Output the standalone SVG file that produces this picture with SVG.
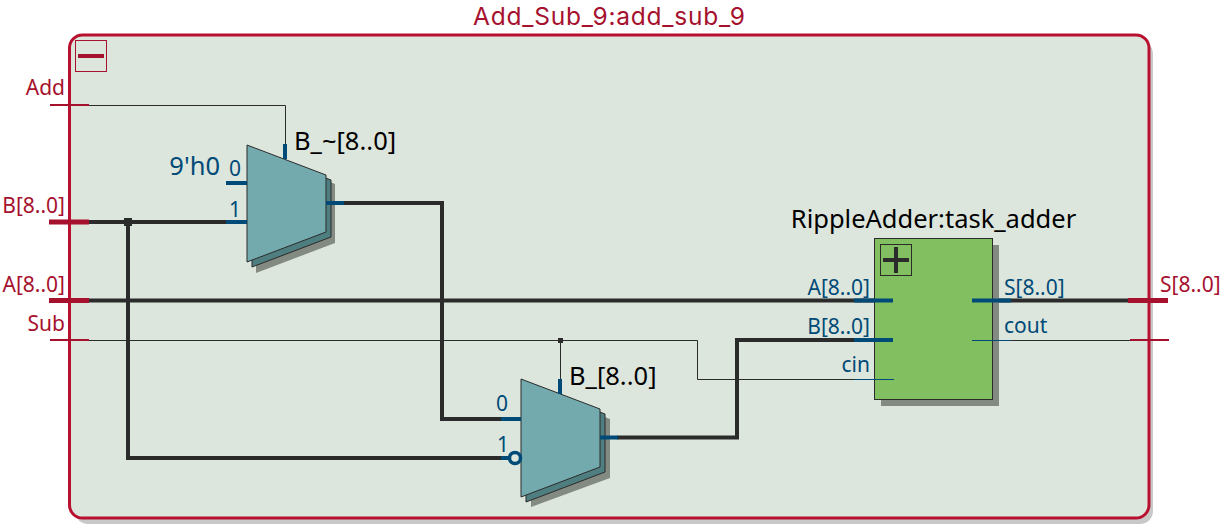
<svg xmlns="http://www.w3.org/2000/svg" width="1224" height="526" viewBox="0 0 1224 526">
<style>
text{font-family:"Noto Sans","Open Sans",sans-serif;font-size:25.500px}
.r{fill:#a6112e}.b{fill:#004a77}.k{fill:#000}.e{text-anchor:end}
.s{font-size:21px}
.title{font-family:Inter,"Noto Sans",sans-serif;font-size:24.500px}
.wt{fill:none;stroke:#2b2b2b;stroke-width:1}
.wb{fill:none;stroke:#2b2b2b;stroke-width:4;stroke-linejoin:miter}
.pt{stroke:#004a77;stroke-width:1;fill:none}
.pb{stroke:#004a77;stroke-width:4;fill:none}
.ot{stroke:#a6112e;stroke-width:2;fill:none}
.ob{stroke:#a6112e;stroke-width:5;fill:none}
.m1{fill:#73aaad;stroke:#2b2b2b;stroke-width:1}
.m2{fill:#4f7e80;stroke:#2b2b2b;stroke-width:1}
.m3{fill:#828a82}
</style>
<rect width="1224" height="526" fill="#fff"/>
<g id="frame">
<rect x="75" y="41" width="1078" height="483" rx="13" fill="#c8c8c8"/>
<rect x="69.500" y="35" width="1079.500" height="483" rx="13" fill="#dde6dd" stroke="#b8102f" stroke-width="3"/>
<text x="609" y="24.500" text-anchor="middle" class="r title" textLength="272">Add_Sub_9:add_sub_9</text>
<rect x="75.500" y="40.500" width="31" height="31" fill="none" stroke="#a6112e" stroke-width="1"/>
<rect x="78" y="54" width="26" height="4" fill="#a6112e"/>
</g>
<g id="connectors">
<path class="wt" d="M89 105.500H285.500V145"/>
<path class="wb" d="M89 222H247"/>
<path class="wb" d="M128 222V458H510"/>
<path class="wb" d="M89 300.500H875"/>
<path class="wb" d="M344 203H442V419H522"/>
<path class="wb" d="M617 437.500H737V340H875"/>
<path class="wt" d="M89 340.500H697.500V379.500H875"/>
<path class="wt" d="M560.500 340.500V380"/>
<path class="wb" d="M970 300.500H1130"/>
<path class="wt" d="M970 340.500H1130"/>
<rect x="124" y="218" width="8" height="8" fill="#2b2b2b"/>
<rect x="558" y="338" width="5" height="5" fill="#2b2b2b"/>
</g>
<g id="port_Add"><text x="65" y="95" class="r e s">Add</text><path class="ot" d="M50 105H89"/></g>
<g id="port_B"><text x="65" y="213" class="r e s">B[8..0]</text><path class="ob" d="M49 222H89"/></g>
<g id="port_A"><text x="65" y="292" class="r e s">A[8..0]</text><path class="ob" d="M49 300.500H89"/></g>
<g id="port_Sub"><text x="65" y="331" class="r e s">Sub</text><path class="ot" d="M50 340H89"/></g>
<g id="port_S"><text x="1160" y="292" class="r s">S[8..0]</text><path class="ob" d="M1128 300.500H1168"/></g>
<g id="port_cout"><path class="ot" d="M1130 340H1169"/></g>
<g id="mux_B_not">
<path class="m3" d="M256 154L335 184V243L256 273Z"/>
<path class="m2" d="M252 150L331 180V237L252 267Z"/>
<path class="m1" d="M247 145L326 175V232L247 262Z"/>
<path class="pb" d="M285 144V159M226 183H247M226 222H247M326 203H344"/>
<text x="294" y="150" class="k">B_~[8..0]</text>
<text x="220" y="175" class="b e">9'h0</text>
<text x="229" y="176" class="b s">0</text>
<text x="229" y="217" class="b s">1</text>
</g>
<g id="mux_B_">
<path class="m3" d="M531 389L610 419V478L531 507Z"/>
<path class="m2" d="M526 384L605 414V472L526 502Z"/>
<path class="m1" d="M521 379L600 409V467L521 497Z"/>
<path class="pb" d="M560 379V394M501 419H521M501 458H510M600 437.500H618"/>
<circle cx="515" cy="458" r="5.500" fill="#dde6dd" stroke="#004a77" stroke-width="3.500"/>
<text x="569" y="385" class="k">B_[8..0]</text>
<text x="496" y="411" class="b s">0</text>
<text x="497" y="452" class="b s">1</text>
</g>
<g id="task_adder">
<rect x="881" y="245" width="118" height="161" fill="#828a82"/>
<rect x="874.500" y="238.500" width="118" height="161" fill="#82bf60" stroke="#2b2b2b" stroke-width="1"/>
<rect x="880.500" y="244.500" width="31" height="31" fill="none" stroke="#2b2b2b" stroke-width="1"/>
<path d="M883 260H909M896 247V273" stroke="#2b2b2b" stroke-width="4" fill="none"/>
<path class="pb" d="M854 300.500H893M854 340H893M972 300.500H1011"/>
<path class="pt" d="M854 379.500H894M972 340.500H1011"/>
<text x="933.500" y="228" text-anchor="middle" class="k">RippleAdder:task_adder</text>
<text x="870" y="295" class="b e s">A[8..0]</text>
<text x="870" y="334" class="b e s">B[8..0]</text>
<text x="870" y="372" class="b e s">cin</text>
<text x="1004" y="295" class="b s">S[8..0]</text>
<text x="1004" y="333" class="b s">cout</text>
</g>
</svg>
